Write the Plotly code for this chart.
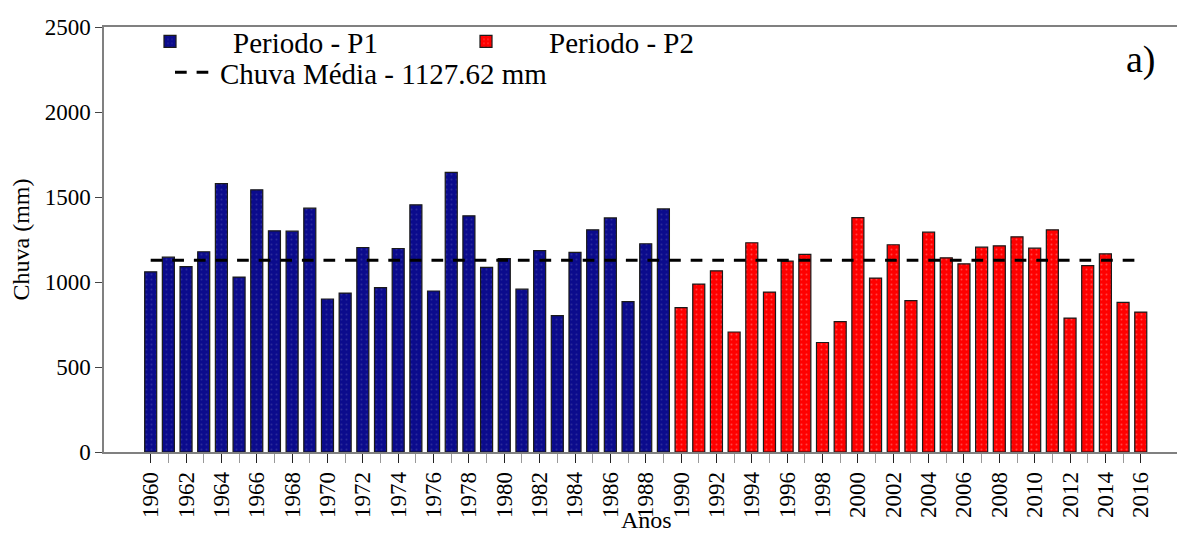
import plotly.graph_objects as go

years_p1 = list(range(1960, 1990))
rain_p1 = [1060, 1146, 1090, 1178, 1579, 1029, 1542, 1301, 1299, 1434,
           900, 935, 1203, 967, 1197, 1454, 947, 1645, 1389, 1086,
           1138, 958, 1184, 802, 1174, 1307, 1377, 884, 1225, 1430]
years_p2 = list(range(1990, 2017))
rain_p2 = [849, 988, 1066, 706, 1231, 941, 1123, 1162, 644, 767,
           1379, 1023, 1219, 890, 1293, 1142, 1107, 1205, 1213, 1266,
           1199, 1307, 788, 1096, 1166, 880, 823]
mean_rain = 1127.62
mean_years = [1960, 2016]
x_major_ticks = list(range(1960, 2017, 2))
x_minor_ticks = list(range(1961, 2016, 2))
y_ticks = [0, 500, 1000, 1500, 2000, 2500]

FONT = "Liberation Serif, Times New Roman, serif"
W, H = 1177, 537
ML, MR, MT, MB = 104, 0, 27, 85

fig = go.Figure()
fig.add_trace(go.Bar(
    x=years_p1, y=rain_p1, name="Periodo - P1",
    marker=dict(color="#0B0B8C", line=dict(color="#1a1a1a", width=1.2),
                pattern=dict(shape=".", fgcolor="#4a4aa8", size=5, solidity=0.12)),
    legend="legend",
))
fig.add_trace(go.Bar(
    x=years_p2, y=rain_p2, name="Periodo - P2",
    marker=dict(color="#FF0000", line=dict(color="#1a1a1a", width=1.2),
                pattern=dict(shape=".", fgcolor="#ff8a8a", size=5, solidity=0.12)),
    legend="legend",
))
fig.add_trace(go.Scatter(
    x=mean_years, y=[mean_rain] * len(mean_years), mode="lines",
    name="Chuva Média - 1127.62 mm",
    line=dict(color="black", width=3, dash="11.7px,9.9px"),
    legend="legend2",
))

pw = W - ML - MR
ph = H - MT - MB

fig.update_layout(
    width=W, height=H,
    margin=dict(l=ML, r=MR, t=MT, b=MB, autoexpand=False),
    paper_bgcolor="white", plot_bgcolor="white",
    barmode="overlay", bargap=0.32,
    font=dict(family=FONT, size=23, color="black"),
    showlegend=True,
    legend=dict(
        orientation="h", x=(107 - ML) / pw, y=1 + 11 / ph, xanchor="left", yanchor="top",
        font=dict(family=FONT, size=29, color="black"),
        entrywidth=185, entrywidthmode="pixels",
        bgcolor="rgba(0,0,0,0)", borderwidth=0, itemwidth=116,
        tracegroupgap=0,
    ),
    legend2=dict(
        orientation="h", x=(170 - ML) / pw, y=1 - 20 / ph, xanchor="left", yanchor="top",
        font=dict(family=FONT, size=29, color="black"),
        bgcolor="rgba(0,0,0,0)", borderwidth=0, itemwidth=40,
    ),
    xaxis=dict(
        range=[1957.36, 2018.05],
        tickmode="array", tickvals=x_major_ticks, ticktext=[str(v) for v in x_major_ticks],
        tickangle=-90,
        ticks="outside", ticklen=9, tickwidth=1.2, tickcolor="#222",
        minor=dict(tickmode="array", tickvals=x_minor_ticks, ticks="outside",
                   ticklen=9, tickwidth=1.2, tickcolor="#999"),
        showline=True, linecolor="#808080", linewidth=1.5, mirror=True,
        showgrid=False, zeroline=False,
        tickfont=dict(family=FONT, size=23, color="black"),
    ),
    yaxis=dict(
        range=[0, 2500],
        tickmode="array", tickvals=y_ticks, ticktext=[str(v) for v in y_ticks],
        ticks="outside", ticklen=7, tickwidth=1.2, tickcolor="#444",
        showline=True, linecolor="#808080", linewidth=1.5,
        showgrid=False, zeroline=False,
        tickfont=dict(family=FONT, size=23, color="black"),
        title=dict(text="Chuva (mm)", font=dict(family=FONT, size=24, color="black"), standoff=8),
    ),
    annotations=[
        dict(
            text="a)", x=(1141 - ML) / pw, y=1 - (60 - MT) / ph, xref="paper", yref="paper",
            showarrow=False, font=dict(family=FONT, size=38, color="black"),
            xanchor="center", yanchor="middle",
        ),
        dict(
            text="Anos", x=(646 - ML) / pw, y=-(520 - (H - MB)) / ph, xref="paper", yref="paper",
            showarrow=False, font=dict(family=FONT, size=24, color="black"),
            xanchor="center", yanchor="middle",
        ),
    ],
)

fig.write_html("out.html")
